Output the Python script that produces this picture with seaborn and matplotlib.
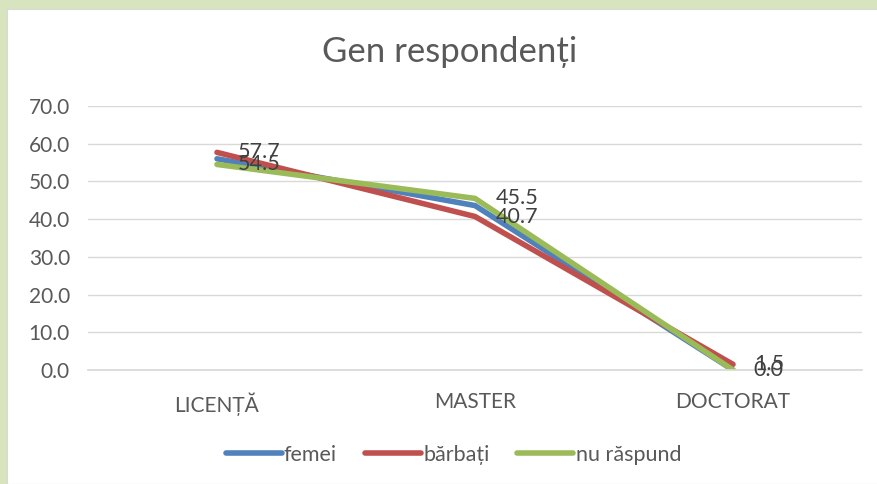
import matplotlib.pyplot as plt
import pandas as pd
import seaborn as sns
from matplotlib.patches import Rectangle

# Data
levels = ["LICENȚĂ", "MASTER", "DOCTORAT"]
femei = [56.0, 43.6, 0.0]
barbati = [57.7, 40.7, 1.5]
nu_raspund = [54.5, 45.5, 0.0]
series_names = ["femei", "bărbați", "nu răspund"]
colors = ["#4F81BD", "#C0504D", "#9BBB59"]

df = pd.DataFrame({
    "nivel": levels * 3,
    "x": list(range(len(levels))) * 3,
    "valoare": femei + barbati + nu_raspund,
    "gen": [s for s in series_names for _ in levels],
})

sns.set_theme(style="white")
plt.rcParams['font.family'] = ['Lato', 'DejaVu Sans']
text_color = "#595959"

fig = plt.figure(figsize=(8.78, 4.84), dpi=100)
fig.patch.set_facecolor("#D7E4BD")
fig.patches.append(Rectangle((7 / 878, 0), 1, 1 - 9 / 484, transform=fig.transFigure,
                             facecolor="white", edgecolor="#D9D9D9", linewidth=0.8,
                             zorder=-5))

ax = fig.add_axes([88 / 878, 1 - 370 / 484, (862 - 88) / 878, (370 - 106) / 484])
ax.set_facecolor("none")

sns.lineplot(data=df, x="x", y="valoare", hue="gen", palette=colors, linewidth=4,
             ax=ax, legend=True)
for line in ax.get_lines():
    line.set_solid_capstyle("round")
    line.set_solid_joinstyle("round")

# data labels for bărbați and nu răspund
for vals in [barbati, nu_raspund]:
    for i, v in enumerate(vals):
        ax.annotate(f"{v:.1f}", (i, v), xytext=(15, 0), textcoords="offset points",
                    ha="left", va="center", fontsize=15.5, color="#404040")

ax.set_xlim(-0.5, 2.5)
ax.set_ylim(0, 70)
ax.set_yticks(range(0, 71, 10))
ax.set_yticklabels([f"{t:.1f}" for t in range(0, 71, 10)])
ax.set_xticks(range(len(levels)))
ax.set_xticklabels(levels)
ax.tick_params(axis="both", colors=text_color, labelsize=15, length=0)
ax.tick_params(axis="x", pad=16)
ax.tick_params(axis="y", pad=13)
ax.grid(axis="y", color="#D9D9D9", linewidth=1)
for side in ["top", "right", "left"]:
    ax.spines[side].set_visible(False)
ax.spines["bottom"].set_color("#D9D9D9")
ax.set_xlabel("")
ax.set_ylabel("")

ax.legend(loc="center", bbox_to_anchor=(0.472, -0.322), ncol=3, frameon=False,
          fontsize=15.5, handlelength=2.6, handletextpad=0.1, columnspacing=1.3,
          labelcolor=text_color)
for line in ax.get_legend().get_lines():
    line.set_linewidth(4)
    line.set_solid_capstyle("round")

fig.text(0.512, 1 - 52 / 484, "Gen respondenți", ha="center", va="center",
         fontsize=25, color=text_color)

fig.savefig("out.png", dpi=100)
